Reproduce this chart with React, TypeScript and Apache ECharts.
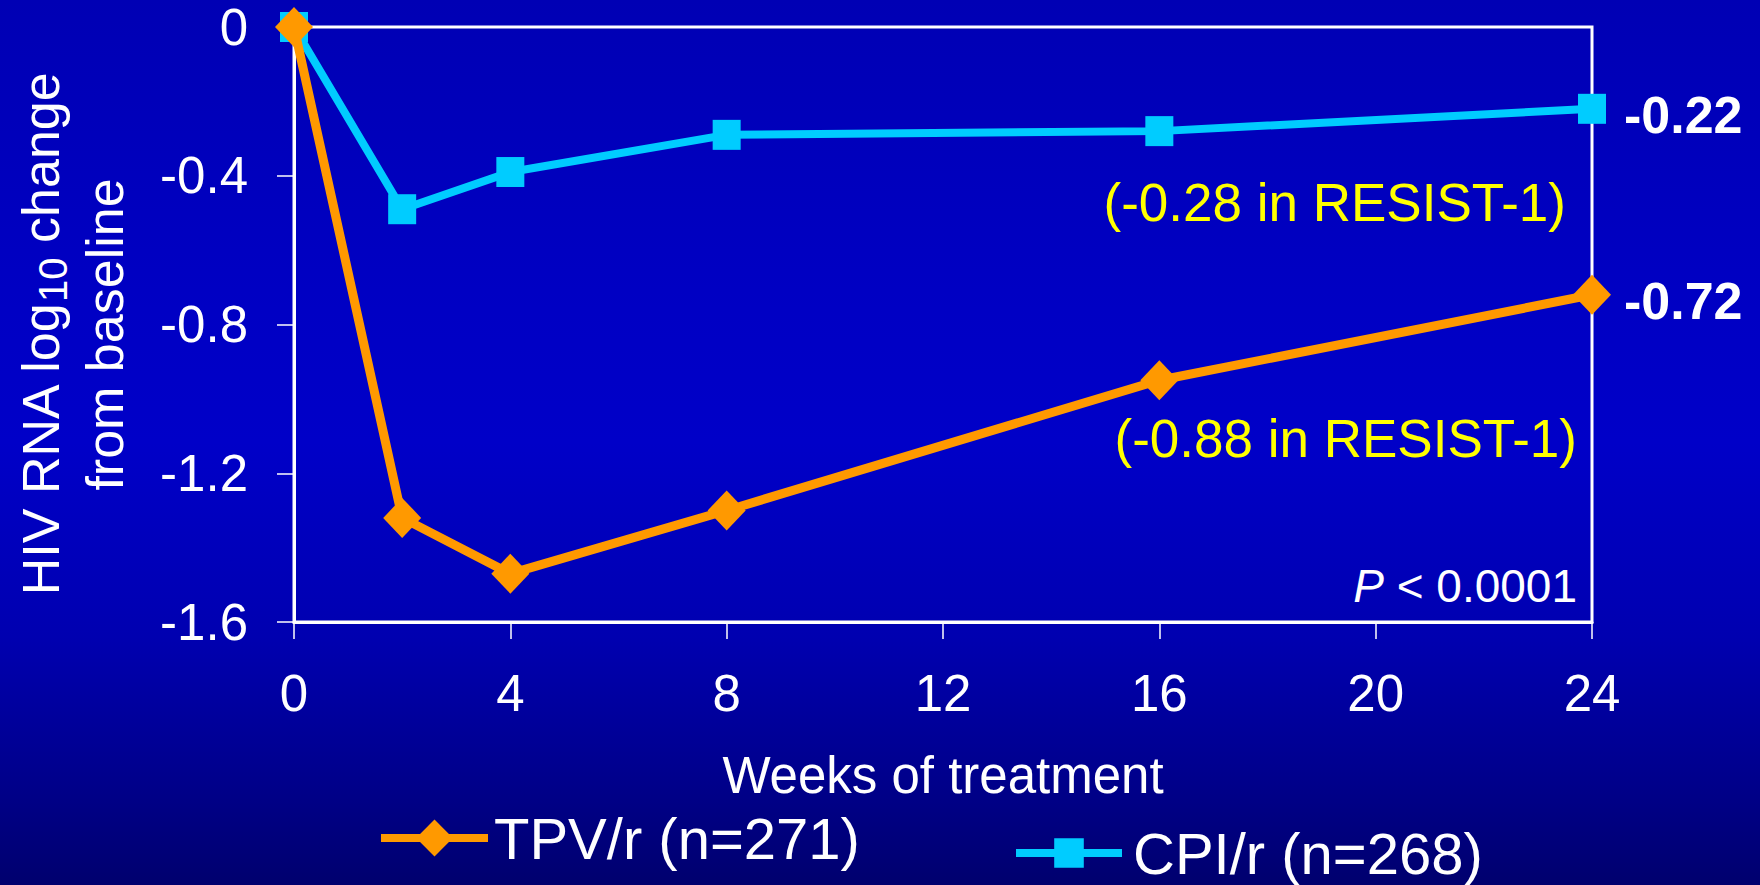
import React, { useEffect, useRef } from "react";
import * as echarts from "echarts";

const weeks = [0, 2, 4, 8, 16, 24];
const tpvValues = [0, -1.32, -1.47, -1.3, -0.95, -0.72];
const cpiValues = [0, -0.49, -0.39, -0.29, -0.28, -0.22];
const xTicks = [0, 4, 8, 12, 16, 20, 24];
const yTicks = [0, -0.4, -0.8, -1.2, -1.6];

const tpvName = "TPV/r (n=271)";
const cpiName = "CPI/r (n=268)";
const resist1Notes = ["(-0.28 in RESIST-1)", "(-0.88 in RESIST-1)"];
const pValueText = "< 0.0001";

const FONT = "'Liberation Sans', Arial, Helvetica, sans-serif";
const ORANGE = "#FF9900";
const CYAN = "#00CCFF";
const WHITE = "#FFFFFF";
const YELLOW = "#FFFF00";

// Last point of each series carries its value as a bold label to the right.
function seriesData(values: number[]) {
  const last = values.length - 1;
  return values.map((v, i) =>
    i === last
      ? {
          value: [weeks[i], v],
          label: {
            show: true,
            position: "right",
            formatter: (p: any) => Number(p.value[1]).toFixed(2),
          },
        }
      : { value: [weeks[i], v] }
  );
}

export default function App() {
  const ref = useRef<HTMLDivElement>(null);

  useEffect(() => {
    if (!ref.current) return;
    const chart = echarts.init(ref.current, null, { renderer: "svg" });

    const endLabelStyle = {
      color: WHITE,
      fontFamily: FONT,
      fontSize: 52,
      fontWeight: "bold" as const,
      offset: [0, 6],
    };

    chart.setOption({
      animation: false,
      backgroundColor: "transparent",
      textStyle: { fontFamily: FONT },
      grid: {
        left: 294,
        right: 168,
        top: 27,
        bottom: 263,
        show: true,
        borderColor: WHITE,
        borderWidth: 3,
        backgroundColor: "transparent",
      },
      xAxis: {
        type: "value",
        min: xTicks[0],
        max: xTicks[xTicks.length - 1],
        interval: xTicks[1] - xTicks[0],
        name: "Weeks of treatment",
        nameLocation: "middle",
        nameGap: 128,
        nameTextStyle: { color: WHITE, fontSize: 51, fontFamily: FONT, lineHeight: 51 },
        axisLine: { show: true, onZero: false, lineStyle: { color: WHITE, width: 3 } },
        axisTick: { show: true, length: 17, inside: false, lineStyle: { color: WHITE, width: 1.5 } },
        axisLabel: {
          color: WHITE,
          fontSize: 51,
          fontFamily: FONT,
          lineHeight: 51,
          margin: 46,
        },
        splitLine: { show: false },
      },
      yAxis: {
        type: "value",
        min: yTicks[yTicks.length - 1],
        max: yTicks[0],
        interval: yTicks[0] - yTicks[1],
        name: "{a|HIV RNA log}{s|10}{a| change}\n{a|from baseline}",
        nameLocation: "middle",
        nameRotate: 90,
        nameGap: 157,
        nameTextStyle: {
          color: WHITE,
          fontFamily: FONT,
          fontSize: 52,
          padding: [0, 20, 0, 0],
          rich: {
            a: { color: WHITE, fontFamily: FONT, fontSize: 52, lineHeight: 64 },
            s: {
              color: WHITE,
              fontFamily: FONT,
              fontSize: 40,
              lineHeight: 34,
              verticalAlign: "bottom",
            },
          },
        },
        axisLine: { show: true, onZero: false, lineStyle: { color: WHITE, width: 3 } },
        axisTick: { show: true, length: 17, inside: false, lineStyle: { color: WHITE, width: 1.5 } },
        axisLabel: {
          color: WHITE,
          fontSize: 51,
          fontFamily: FONT,
          margin: 46,
          formatter: (v: number) => (v === 0 ? "0" : v.toFixed(1)),
        },
        splitLine: { show: false },
      },
      legend: [
        {
          data: [tpvName],
          left: 377,
          top: 809,
          padding: 0,
          itemWidth: 107,
          itemHeight: 46,
          lineStyle: { width: 8 },
          textStyle: {
            color: WHITE,
            fontSize: 58,
            fontFamily: FONT,
            padding: [0, 0, 0, 1],
          },
        },
        {
          data: [cpiName],
          left: 1012,
          top: 824,
          padding: 0,
          itemWidth: 106,
          itemHeight: 37,
          lineStyle: { width: 8 },
          textStyle: {
            color: WHITE,
            fontSize: 58,
            fontFamily: FONT,
            padding: [0, 0, 0, 6],
          },
        },
      ],
      series: [
        {
          name: cpiName,
          type: "line",
          data: seriesData(cpiValues),
          symbol: "rect",
          symbolSize: [28, 30],
          z: 2,
          lineStyle: { color: CYAN, width: 8 },
          itemStyle: { color: CYAN },
          label: { ...endLabelStyle, distance: 18 },
        },
        {
          name: tpvName,
          type: "line",
          data: seriesData(tpvValues),
          symbol: "diamond",
          symbolSize: [38, 40],
          z: 3,
          lineStyle: { color: ORANGE, width: 9 },
          itemStyle: { color: ORANGE },
          label: { ...endLabelStyle, distance: 13 },
        },
      ],
      graphic: [
        {
          type: "text",
          x: 1566,
          y: 202,
          style: {
            text: resist1Notes[0],
            fill: YELLOW,
            font: `53px ${FONT}`,
            textAlign: "right",
            textVerticalAlign: "middle",
          },
        },
        {
          type: "text",
          x: 1577,
          y: 438,
          style: {
            text: resist1Notes[1],
            fill: YELLOW,
            font: `53px ${FONT}`,
            textAlign: "right",
            textVerticalAlign: "middle",
          },
        },
        {
          type: "text",
          x: 1577,
          y: 586,
          style: {
            text: `{i|P} {n|${pValueText}}`,
            fill: WHITE,
            font: `46px ${FONT}`,
            textAlign: "right",
            textVerticalAlign: "middle",
            rich: {
              i: { fontStyle: "italic", fontSize: 46, fontFamily: FONT, fill: WHITE },
              n: { fontSize: 46, fontFamily: FONT, fill: WHITE },
            },
          },
        },
      ],
    });

    return () => chart.dispose();
  }, []);

  return (
    <div
      ref={ref}
      style={{
        position: "fixed",
        left: 0,
        top: 0,
        width: 1760,
        height: 885,
        background:
          "linear-gradient(to bottom, #0000B4 0%, #0000C4 35%, #0000C8 50%, #0000B0 72%, #00008C 88%, #00006E 100%)",
      }}
    />
  );
}
